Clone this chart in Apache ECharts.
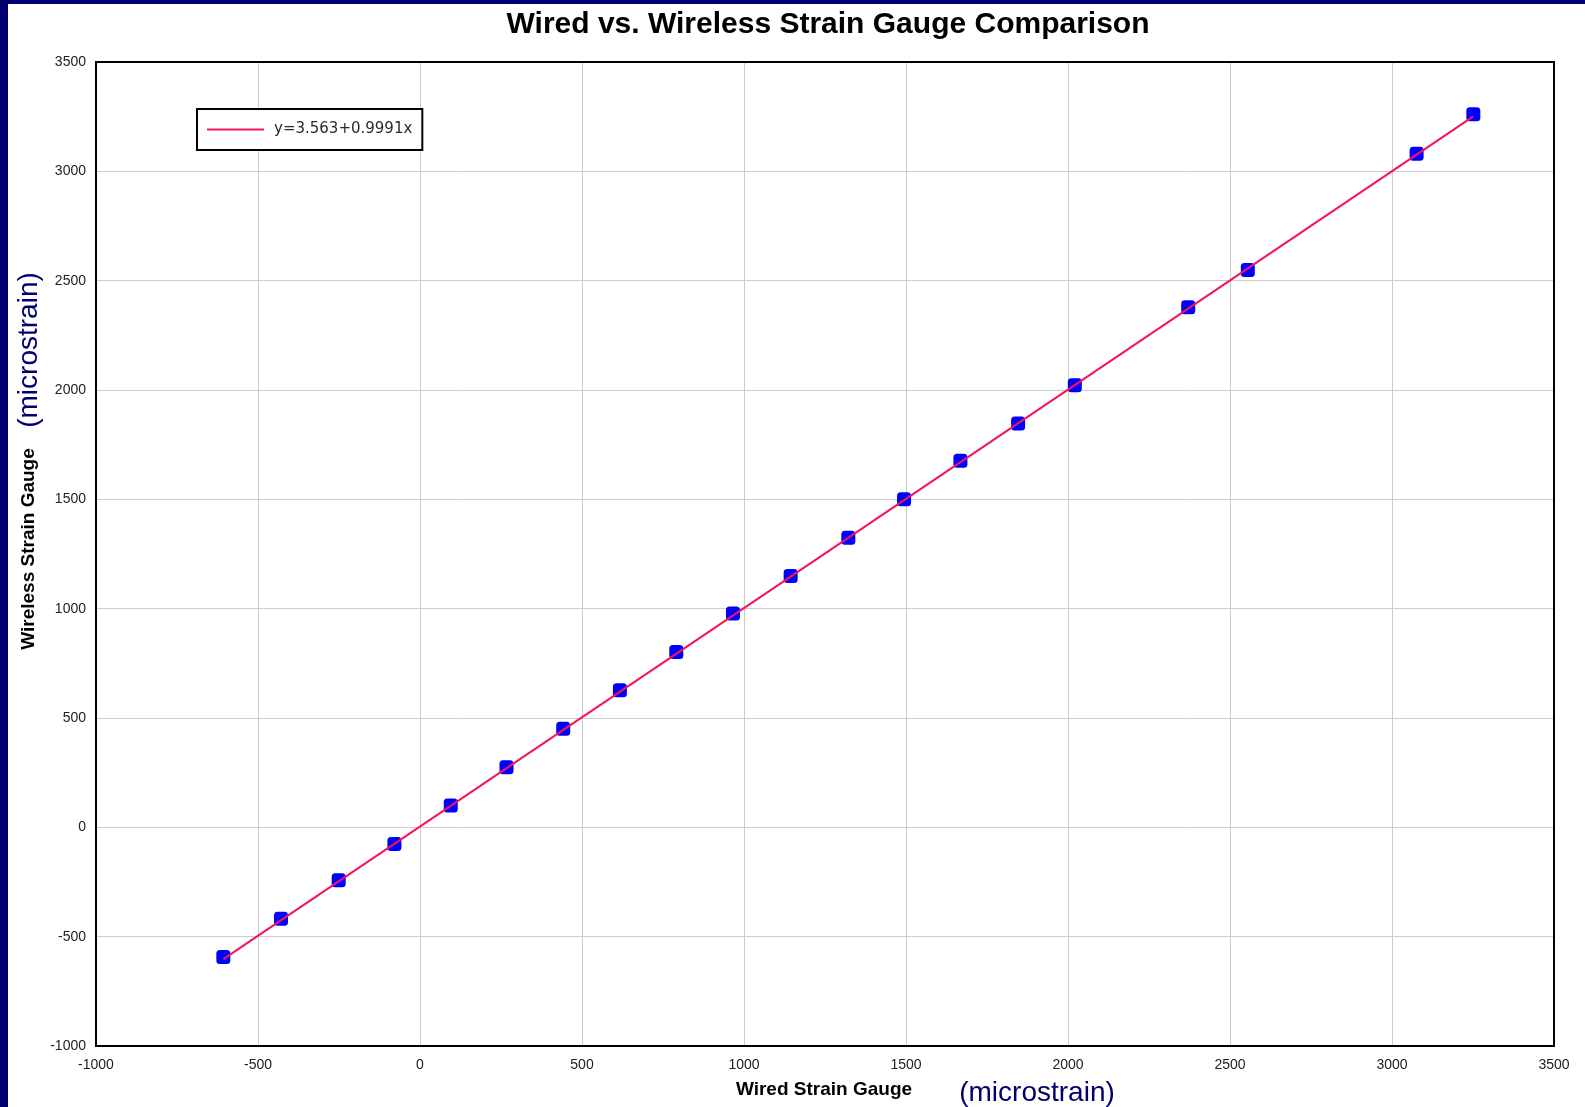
<!DOCTYPE html>
<html>
<head>
<meta charset="utf-8">
<title>Wired vs. Wireless Strain Gauge Comparison</title>
<script src="https://cdn.jsdelivr.net/npm/echarts@6/dist/echarts.min.js"></script>
<style>
  html, body { margin: 0; padding: 0; background: #ffffff; }
  #chart { width: 1585px; height: 1107px; }
</style>
</head>
<body>
<div id="chart"></div>
<script>
// Paired readings, microstrain
const wiredReadings    = [-607, -429, -251, -79, 95, 267, 442, 617, 791, 966, 1144, 1322, 1494, 1668, 1846, 2021, 2371, 2555, 3076, 3251];
const wirelessReadings = [-593, -418, -242, -76, 100, 275, 451, 627, 802, 978, 1149, 1324, 1500, 1676, 1847, 2022, 2378, 2549, 3080, 3261];

// Least-squares fit shown in the legend
const fitIntercept = 3.563;
const fitSlope = 0.9991;
const fitLabel = 'y=3.563+0.9991x';

// Axis ranges and tick step
const axisMin = -1000;
const axisMax = 3500;
const axisStep = 500;

const points = wiredReadings.map((x, i) => [x, wirelessReadings[i]]);
const xLo = Math.min(...wiredReadings);
const xHi = Math.max(...wiredReadings);
const fitLine = [[xLo, fitIntercept + fitSlope * xLo], [xHi, fitIntercept + fitSlope * xHi]];

const FONT = "'Liberation Sans', Arial, sans-serif";
const NAVY = '#000070';
const plainNumber = v => String(v);

// frame-only axes that close the plot box on the top and right
const frameAxis = (position) => ({
  type: 'value', min: axisMin, max: axisMax, interval: axisStep, position,
  axisLine: { show: true, onZero: false, lineStyle: { color: '#000000', width: 2 } },
  axisTick: { show: false }, axisLabel: { show: false }, splitLine: { show: false }
});

const chart = echarts.init(document.getElementById('chart'), null, { renderer: 'canvas' });

chart.setOption({
  backgroundColor: '#ffffff',
  animation: false,
  title: {
    text: 'Wired vs. Wireless Strain Gauge Comparison',
    left: 823,
    textAlign: 'center',
    top: 5,
    textStyle: { fontFamily: FONT, fontSize: 30, fontWeight: 'bold', color: '#000000' }
  },
  grid: {
    left: 96, top: 62, right: 31, bottom: 61,
    show: true, borderColor: '#000000', borderWidth: 2, backgroundColor: '#ffffff'
  },
  legend: {
    left: 197, top: 109,
    orient: 'vertical',
    padding: [13, 10, 13, 10],
    borderColor: '#000000', borderWidth: 2,
    backgroundColor: '#ffffff',
    itemWidth: 57, itemHeight: 2, itemGap: 10,
    data: [{ name: fitLabel, icon: 'rect' }],
    textStyle: { fontFamily: "'DejaVu Sans', sans-serif", fontSize: 15, color: '#2a2a2a', padding: [0, 0, 0, 5] }
  },
  xAxis: [
    {
      type: 'value', min: axisMin, max: axisMax, interval: axisStep,
      axisLine: { show: true, onZero: false, lineStyle: { color: '#000000', width: 2 } },
      axisTick: { show: false },
      axisLabel: { fontFamily: FONT, fontSize: 14, color: '#222222', margin: 12, formatter: plainNumber },
      splitLine: { show: true, lineStyle: { color: '#cccccc', width: 1 } }
    },
    frameAxis('top')
  ],
  yAxis: [
    {
      type: 'value', min: axisMin, max: axisMax, interval: axisStep,
      axisLine: { show: true, onZero: false, lineStyle: { color: '#000000', width: 2 } },
      axisTick: { show: false },
      axisLabel: { fontFamily: FONT, fontSize: 14, color: '#222222', margin: 10, formatter: plainNumber },
      splitLine: { show: true, lineStyle: { color: '#cccccc', width: 1 } }
    },
    frameAxis('right')
  ],
  series: [
    {
      name: 'Readings',
      type: 'scatter',
      data: points,
      symbol: 'roundRect',
      symbolSize: 14,
      itemStyle: { color: '#0000ff', opacity: 1 },
      z: 2
    },
    {
      name: fitLabel,
      type: 'line',
      data: fitLine,
      showSymbol: false,
      symbol: 'none',
      lineStyle: { color: '#f5145a', width: 2 },
      itemStyle: { color: '#f5145a' },
      z: 3
    }
  ],
  graphic: [
    // navy frame along the left and top edges
    { type: 'rect', left: 0, top: 0, shape: { width: 8, height: 1107 }, style: { fill: NAVY }, z: 100 },
    { type: 'rect', left: 0, top: 0, shape: { width: 1585, height: 4 }, style: { fill: NAVY }, z: 100 },
    // axis titles
    {
      type: 'text', x: 824, y: 1090,
      style: { text: 'Wired Strain Gauge', fontFamily: FONT, fontSize: 19, fontWeight: 'bold',
               fill: '#000000', textAlign: 'center', textVerticalAlign: 'middle' }
    },
    {
      type: 'text', x: 1037, y: 1093,
      style: { text: '(microstrain)', fontFamily: FONT, fontSize: 28,
               fill: NAVY, textAlign: 'center', textVerticalAlign: 'middle' }
    },
    {
      type: 'text', x: 29, y: 549, rotation: Math.PI / 2,
      style: { text: 'Wireless Strain Gauge', fontFamily: FONT, fontSize: 19, fontWeight: 'bold',
               fill: '#000000', textAlign: 'center', textVerticalAlign: 'middle' }
    },
    {
      type: 'text', x: 29, y: 350, rotation: Math.PI / 2,
      style: { text: '(microstrain)', fontFamily: FONT, fontSize: 28,
               fill: NAVY, textAlign: 'center', textVerticalAlign: 'middle' }
    }
  ]
});
</script>
</body>
</html>
